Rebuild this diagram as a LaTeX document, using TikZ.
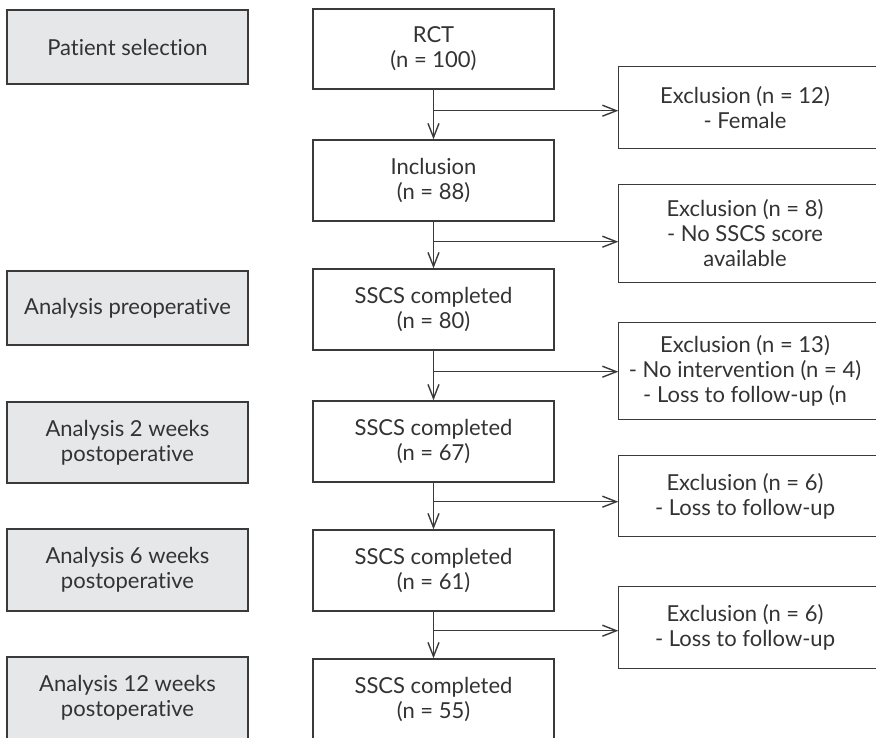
\documentclass[tikz,border=0pt]{standalone}
\usepackage{fontspec}
\setmainfont{Lato}[Ligatures={NoCommon,NoRare,NoContextual}]
\usetikzlibrary{arrows.meta}
\definecolor{ln}{HTML}{3A3A3A}
\definecolor{fillg}{HTML}{E6E7E8}
\definecolor{txt}{HTML}{333333}
\begin{document}
\begin{tikzpicture}[x=1pt,y=-1pt,
  base/.style={draw=ln, line width=1.4pt, text=txt, align=center,
    font=\fontsize{22}{25}\selectfont, inner sep=0pt},
  grey/.style={base, fill=fillg, minimum width=241pt},
  mid/.style={base, fill=white, minimum width=241pt, minimum height=81pt},
  ex/.style={base, draw=none, minimum width=252pt},
  conn/.style={draw=ln, line width=1.4pt},
  arr/.style={conn, -{Straight Barb[length=14pt,width=11pt,line width=1.4pt]}}
]
\useasboundingbox (0,0) rectangle (876,737);
\clip (0,0) rectangle (876,737);

% left column
\node[grey, minimum height=74pt] (p1) at (127.5,47) {Patient selection};
\node[grey, minimum height=74pt] (p2) at (127.5,308) {Analysis preoperative};
\node[grey, minimum height=81pt] (p3) at (127.5,442.5) {Analysis 2 weeks\\postoperative};
\node[grey, minimum height=82pt] (p4) at (127.5,570) {Analysis 6 weeks\\postoperative};
\node[grey, minimum height=82pt] (p5) at (127.5,698) {Analysis 12 weeks\\postoperative};

% middle column
\node[mid, minimum height=80pt] (m1) at (433.5,49) {RCT\\(n = 100)};
\node[mid] (m2) at (433.5,180.5) {Inclusion\\(n = 88)};
\node[mid] (m3) at (433.5,309.5) {SSCS completed\\(n = 80)};
\node[mid] (m4) at (433.5,441.5) {SSCS completed\\(n = 67)};
\node[mid] (m5) at (433.5,570.5) {SSCS completed\\(n = 61)};
\node[mid] (m6) at (433.5,699.5) {SSCS completed\\(n = 55)};

% exclusion column
\node[ex, minimum height=81pt] (e1) at (745,107.5) {Exclusion (n = 12)\\- Female};
\node[ex, minimum height=97pt] (e2) at (745,233.5) {Exclusion (n = 8)\\- No SSCS score\\available};
\node[ex, minimum height=96pt] (e3) at (745,371) {Exclusion (n = 13)\\- No intervention (n = 4)\\- Loss to follow-up (n};
\node[ex, minimum height=80pt] (e4) at (745,496) {Exclusion (n = 6)\\- Loss to follow-up};
\node[ex, minimum height=81pt] (e5) at (745,627.5) {Exclusion (n = 6)\\- Loss to follow-up};
\foreach \e in {e1,e2,e3,e4,e5}{
  \draw[conn] ([xshift=200pt]\e.north east) -- (\e.north west) -- (\e.south west) -- ([xshift=200pt]\e.south east);
}

% vertical arrows
\draw[arr] (m1) -- (m2);
\draw[arr] (m2) -- (m3);
\draw[arr] (m3) -- (m4);
\draw[arr] (m4) -- (m5);
\draw[arr] (m5) -- (m6);

% branch points
\path (m1.south) ++(0,21) coordinate (j1);
\path (m2.south) ++(0,20) coordinate (j2);
\path (m3.south) ++(0,21) coordinate (j3);
\path (m4.south) ++(0,19) coordinate (j4);
\path (m5.south) ++(0,19) coordinate (j5);
\draw[arr] (j1) -- (j1 -| e1.west);
\draw[arr] (j2) -- (j2 -| e2.west);
\draw[arr] (j3) -- (j3 -| e3.west);
\draw[arr] (j4) -- (j4 -| e4.west);
\draw[arr] (j5) -- (j5 -| e5.west);
\end{tikzpicture}
\end{document}
